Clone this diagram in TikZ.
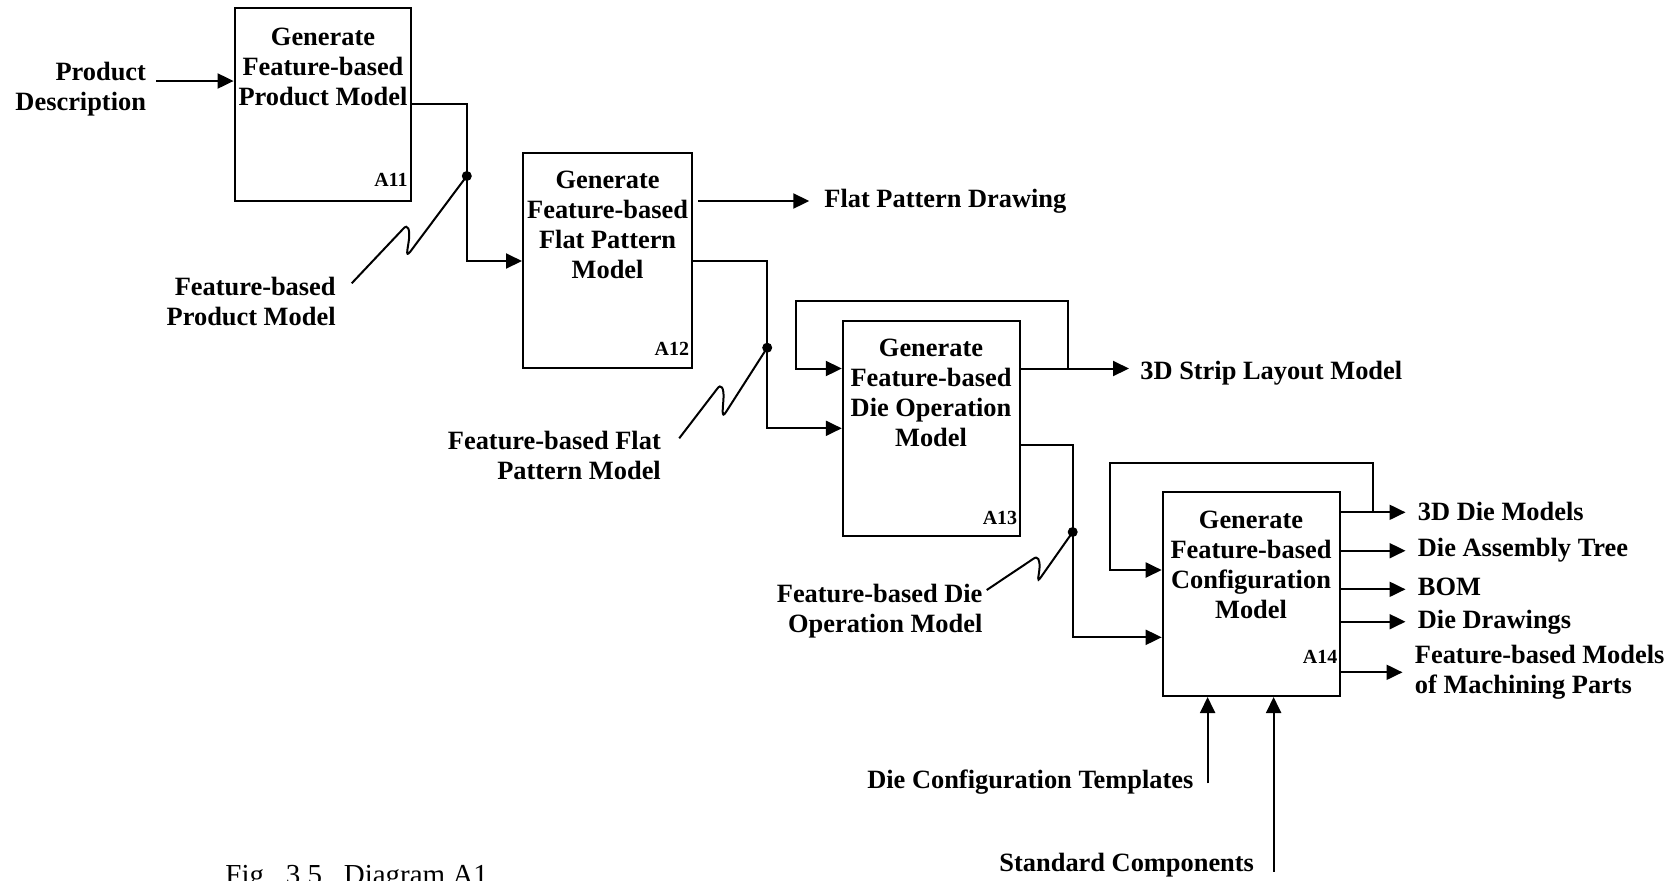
\documentclass[tikz,border=0pt]{standalone}
\usepackage{fontspec}
\setmainfont{Liberation Serif}
\usetikzlibrary{arrows.meta}
\begin{document}
\begin{tikzpicture}[x=0.5pt,y=-0.5pt,
  lbl/.style={font=\fontsize{13.2}{15}\selectfont\bfseries, inner sep=0pt},
  tag/.style={font=\fontsize{10}{12}\selectfont\bfseries, inner sep=0pt, anchor=base east},
  procbox/.style={draw, line width=1pt, inner sep=0pt},
  flow/.style={line width=1pt, -{Triangle[length=8pt,width=7.5pt]}},
  wire/.style={line width=1pt},
  junction/.style={circle, fill, inner sep=0pt, minimum size=5pt},
]
\useasboundingbox (0,0) rectangle (1680,880);

% activity boxes
\node[procbox, minimum width=88.4pt, minimum height=96.2pt] (A11) at (323,104.5) {};
\node[procbox, minimum width=84.6pt, minimum height=107.8pt] (A12) at (607.6,260.5) {};
\node[procbox, minimum width=88.35pt, minimum height=107.8pt] (A13) at (931.15,428.5) {};
\node[procbox, minimum width=88.4pt, minimum height=102.15pt] (A14) at (1251.1,593.85) {};

% box titles (anchored on the baseline of the last line)
\node[lbl, align=center, anchor=base] (t11) at (323,105) {Generate\\Feature-based\\Product Model};
\node[lbl, align=center, anchor=base] (t12) at (607.6,278.3) {Generate\\Feature-based\\Flat Pattern\\Model};
\node[lbl, align=center, anchor=base] (t13) at (931,446) {Generate\\Feature-based\\Die Operation\\Model};
\node[lbl, align=center, anchor=base] (t14) at (1251,618.3) {Generate\\Feature-based\\Configuration\\Model};

% box numbers
\node[tag] (n11) at (408,186) {A11};
\node[tag] (n12) at (689.5,355) {A12};
\node[tag] (n13) at (1017.6,524) {A13};
\node[tag] (n14) at (1337.7,663.3) {A14};

% external labels
\node[lbl, align=right, anchor=base east] (pd) at (146.4,110.5) {Product\\Description};
\node[lbl, align=right, anchor=base east] (fpm) at (336,325.5) {Feature-based\\Product Model};
\node[lbl, anchor=base west] (fpd) at (824,207.3) {Flat Pattern Drawing};
\node[lbl, align=right, anchor=base east] (ffp) at (661.2,479.5) {Feature-based Flat\\Pattern Model};
\node[lbl, anchor=base west] (strip) at (1140,379.3) {3D Strip Layout Model};
\node[lbl, align=right, anchor=base east] (fdo) at (982.8,632.5) {Feature-based Die\\Operation Model};
\node[lbl, anchor=base west] (o1) at (1417.5,520.5) {3D Die Models};
\node[lbl, anchor=base west] (o2) at (1417.5,556.7) {Die Assembly Tree};
\node[lbl, anchor=base west] (o3) at (1417.5,595.5) {BOM};
\node[lbl, anchor=base west] (o4) at (1417.5,628.3) {Die Drawings};
\node[lbl, align=left, anchor=base west] (o5) at (1414.5,693.5) {Feature-based Models\\of Machining Parts};
\node[lbl, anchor=base east] (dct) at (1193.8,788.3) {Die Configuration Templates};
\node[lbl, anchor=base east] (sc) at (1254.4,871.7) {Standard Components};

% caption
\node[font=\fontsize{14.5}{17}\selectfont, inner sep=0pt, anchor=base west] (cap) at (225,884.5) {Fig.\ \ 3.5.\ \ Diagram A1};

% branch points
\node[junction] (J1) at (466.8,176) {};
\node[junction] (J2) at (767.2,347.7) {};
\node[junction] (J3) at (1072.7,532) {};

% free ends of connectors
\coordinate (pdIn) at (156,81);
\coordinate (fpdS) at (698,201);
\coordinate (fpdE) at (809.3,201);
\coordinate (stripE) at (1129,368.5);
\coordinate (loopA) at (1068.3,368.5);
\coordinate (loopB) at (1372.5,512.3);
\coordinate (ctlA) at (1207.6,783.3);
\coordinate (ctlB) at (1273.6,871.7);

% inputs and outputs
\draw[flow] (pdIn) -- (A11.west |- pdIn);
\draw[flow] (A11.east |- 0,104.3) -| (J1.center) |- (A12.west |- 0,261);
\draw[flow] (fpdS) -- (fpdE);
\draw[flow] (A12.east |- 0,260.7) -| (J2.center) |- (A13.west |- 0,428.3);
\draw[flow] (A13.east |- stripE) -- (stripE);
\draw[flow] (loopA) |- (795.9,300.7) |- (A13.west |- 0,368.5);
\draw[flow] (A13.east |- 0,445) -| (J3.center) |- (A14.west |- 0,637.3);
\draw[flow] (loopB) |- (1110,463.3) |- (A14.west |- 0,570);
\draw[flow] (A14.east |- 0,512.3) -- (1405.5,512.3);
\draw[flow] (A14.east |- 0,550.7) -- (1405.5,550.7);
\draw[flow] (A14.east |- 0,589.3) -- (1405.5,589.3);
\draw[flow] (A14.east |- 0,621.7) -- (1405.5,621.7);
\draw[flow] (A14.east |- 0,672.3) -- (1402.5,672.3);
\draw[flow] (ctlA) -- (A14.south -| ctlA);
\draw[flow] (ctlB) -- (A14.south -| ctlB);

% squiggles tying labels to branches
\draw[wire] (351.7,283.3) -- (403,229) .. controls (408,223) and (410,230) .. (409,239)
  .. controls (408,248) and (405,258) .. (410,252) -- (J1.center);
\draw[wire] (679.2,438.3) -- (717,389) .. controls (721,383) and (724,388) .. (723.5,398)
  .. controls (723,408) and (721,420) .. (726,412) -- (J2.center);
\draw[wire] (986.7,590) -- (1033,559) .. controls (1038,555) and (1040,560) .. (1039.5,568)
  .. controls (1039,576) and (1036,584) .. (1041,577) -- (J3.center);
\end{tikzpicture}
\end{document}
